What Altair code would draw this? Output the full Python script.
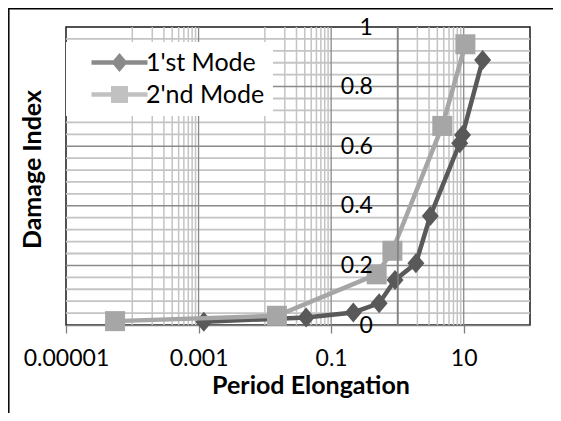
import altair as alt
import pandas as pd

# ---------------- data ----------------
series_names = ["1'st Mode", "2'nd Mode"]
series_colors = ["#595959", "#a6a6a6"]

mode1_x = [0.0012, 0.042, 0.216, 0.53, 0.92, 1.9, 3.13, 8.7, 9.6, 19.3]
mode1_y = [0.011, 0.025, 0.042, 0.073, 0.151, 0.207, 0.366, 0.61, 0.638, 0.889]

mode2_x = [0.000055, 0.0152, 0.486, 0.84, 4.75, 10.6]
mode2_y = [0.013, 0.031, 0.170, 0.249, 0.668, 0.942]

# axis ticks / gridlines
x_tick_values = [0.00001, 0.001, 0.1, 10]
x_major_grid = [0.001, 0.1, 1, 10]
x_minor_grid = [0.0001, 0.0002, 0.0003, 0.0004, 0.0005, 0.0006, 0.0007, 0.0008, 0.0009,
                0.01, 0.02, 0.03, 0.04, 0.05, 0.06, 0.07, 0.08, 0.09,
                2, 3, 4, 5, 6, 7, 8, 9]
y_tick_values = [0, 0.2, 0.4, 0.6, 0.8, 1]
y_major_grid = [0.2, 0.4, 0.6, 0.8]
y_minor_grid = [0.04, 0.08, 0.12, 0.16, 0.24, 0.28, 0.32, 0.36, 0.44, 0.48,
                0.52, 0.56, 0.64, 0.68, 0.72, 0.76, 0.84, 0.88, 0.92, 0.96]

# ---------------- styling ----------------
FONT = "Lato"
W, H = 464, 298
DIAMOND = "M-0.85,0 L0,-1 L0.85,0 L0,1 Z"
LEG_DIAMOND = ("M-2.8,-0.22 L2.8,-0.22 L2.8,0.22 L-2.8,0.22 Z "
               "M-0.8,0 L0,-0.95 L0.8,0 L0,0.95 Z")
LEG_SQUARE = ("M-2.8,-0.22 L2.8,-0.22 L2.8,0.22 L-2.8,0.22 Z "
              "M-0.85,-0.85 L0.85,-0.85 L0.85,0.85 L-0.85,0.85 Z")

xscale = alt.Scale(type="log", domain=[0.00001, 100], nice=False)
yscale = alt.Scale(domain=[0, 1], nice=False, zero=False)

df1 = pd.DataFrame({"x": mode1_x, "y": mode1_y, "Mode": series_names[0]})
df2 = pd.DataFrame({"x": mode2_x, "y": mode2_y, "Mode": series_names[1]})
df_leg = pd.DataFrame({"x": [mode1_x[0], mode2_x[0]], "y": [mode1_y[0], mode2_y[0]],
                       "Mode": series_names})

x_axis = alt.Axis(values=x_tick_values, format=".5~f", grid=False,
                  domainColor="#7f7f7f", domainWidth=1.5,
                  tickColor="#7f7f7f", tickSize=8, tickWidth=1.3,
                  labelFont=FONT, labelFontSize=23, labelColor="black",
                  labelPadding=14, labelFlush=False, labelOverlap=False,
                  title="Period Elongation", titleFont=FONT, titleFontSize=25,
                  titleFontWeight="bold", titleColor="black",
                  titleX=244.5, titleY=68, titleBaseline="alphabetic")
y_axis = alt.Axis(values=y_tick_values, format="~g", grid=False,
                  offset=-W * 5 / 7, zindex=1,
                  domainColor="#7f7f7f", domainWidth=1.5, ticks=False,
                  labelFont=FONT, labelFontSize=23, labelColor="black",
                  labelPadding=25, labelFlush=False, labelOverlap=False,
                  title="Damage Index", titleFont=FONT, titleFontSize=25,
                  titleFontWeight="bold", titleColor="black",
                  titleAngle=270, titleX=-357, titleY=142,
                  titleBaseline="alphabetic", titleAlign="center")

# layer that carries the axes (first, so its explicit settings win)
axes_layer = alt.Chart(df1).mark_point(opacity=0, size=0).encode(
    x=alt.X("x:Q", scale=xscale, axis=x_axis),
    y=alt.Y("y:Q", scale=yscale, axis=y_axis))

# gridlines
gx_minor = alt.Chart(pd.DataFrame({"x": x_minor_grid})).mark_rule(
    color="#c4c4c4", strokeWidth=1.5).encode(x=alt.X("x:Q", scale=xscale))
gy_minor = alt.Chart(pd.DataFrame({"y": y_minor_grid})).mark_rule(
    color="#c4c4c4", strokeWidth=1.8).encode(y=alt.Y("y:Q", scale=yscale))
gx_major = alt.Chart(pd.DataFrame({"x": x_major_grid})).mark_rule(
    color="#8a8a8a", strokeWidth=1.3).encode(x=alt.X("x:Q", scale=xscale))
gy_major = alt.Chart(pd.DataFrame({"y": y_major_grid})).mark_rule(
    color="#8a8a8a", strokeWidth=1.5).encode(y=alt.Y("y:Q", scale=yscale))


def series(df, color, shape):
    line = alt.Chart(df).mark_line(color=color, strokeWidth=4.5).encode(
        x=alt.X("x:Q", scale=xscale),
        y=alt.Y("y:Q", scale=yscale))
    pts = alt.Chart(df).mark_point(filled=True, color=color, shape=shape,
                                   size=400, opacity=1).encode(
        x=alt.X("x:Q", scale=xscale),
        y=alt.Y("y:Q", scale=yscale))
    return line, pts


l1, p1 = series(df1, series_colors[0], DIAMOND)
l2, p2 = series(df2, series_colors[1], "square")

leg = alt.Legend(title=None, orient="none", legendX=0, legendY=15,
                 fillColor="white", padding=8, symbolSize=400,
                 symbolOffset=33,
                 rowPadding=6, labelOffset=14, labelFont=FONT,
                 labelFontSize=25, labelColor="black", symbolStrokeWidth=0,
                 labelLimit=0)
legend_layer = alt.Chart(df_leg).mark_point(filled=True, size=0).encode(
    x=alt.X("x:Q", scale=xscale),
    y=alt.Y("y:Q", scale=yscale),
    color=alt.Color("Mode:N", scale=alt.Scale(domain=series_names, range=series_colors),
                    legend=leg),
    shape=alt.Shape("Mode:N", scale=alt.Scale(domain=series_names,
                                              range=[LEG_DIAMOND, LEG_SQUARE]),
                    legend=leg))

frame = alt.Chart(pd.DataFrame({"f": [0]})).mark_rect(
    fill=None, stroke="black", strokeWidth=1.5).encode(
    x=alt.value(-57.2), x2=alt.value(700), y=alt.value(-18.2), y2=alt.value(700))

chart = alt.layer(axes_layer, gx_minor, gy_minor, gx_major, gy_major,
                  l1, p1, l2, p2, legend_layer, frame).properties(
    width=W, height=H,
    autosize=alt.AutoSizeParams(type="none"),
    padding={"left": 58, "top": 19, "right": 23, "bottom": 88},
    background="white",
).configure(font=FONT).configure_view(stroke="#1a1a1a", strokeWidth=1.5)

chart.save("out.html", embed_options={"renderer": "svg", "actions": False})
